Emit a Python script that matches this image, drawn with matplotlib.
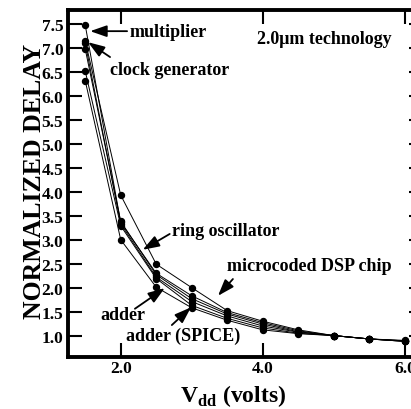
"""
Normalized delay vs. supply voltage for several circuits (2.0um technology).
"""

import matplotlib
matplotlib.use("Agg")
import matplotlib.pyplot as plt


VDD = [1.5, 2.0, 2.5, 3.0, 3.5, 4.0, 4.5, 5.0, 5.5, 6.0]

CLOCK_GENERATOR = [7.15, 3.93, 2.49, 2.00, 1.52, 1.30, 1.12, 1.00, 0.93, 0.90]
MULTIPLIER = [7.48, 3.36, 2.30, 1.83, 1.48, 1.27, 1.10, 1.00, 0.93, 0.89]
RING_OSCILLATOR = [6.98, 3.38, 2.27, 1.77, 1.45, 1.24, 1.08, 1.00, 0.93, 0.89]
MICROCODED_DSP = [7.10, 3.33, 2.22, 1.71, 1.41, 1.20, 1.07, 1.00, 0.93, 0.88]
ADDER_SPICE = [6.52, 3.29, 2.19, 1.63, 1.36, 1.16, 1.05, 1.00, 0.93, 0.88]
ADDER = [6.32, 3.00, 2.01, 1.58, 1.32, 1.12, 1.04, 1.00, 0.93, 0.88]

X_TICKS = [2.0, 4.0, 6.0]
Y_TICKS = [1.0, 1.5, 2.0, 2.5, 3.0, 3.5, 4.0, 4.5, 5.0, 5.5, 6.0, 6.5, 7.0, 7.5]

# label text, text anchor (left, centre), arrow tail, arrow tip -- data coords
ANNOTATIONS = [
    ("multiplier", (2.13, 7.35), (2.09, 7.35), (1.57, 7.35)),
    ("clock generator", (1.85, 6.56), (1.85, 6.81), (1.54, 7.12)),
    ("ring oscillator", (2.72, 3.19), (2.69, 3.12), (2.31, 2.79)),
    ("microcoded DSP chip", (3.49, 2.46), (3.58, 2.18), (3.37, 1.83)),
    ("adder", (1.71, 1.45), (2.20, 1.56), (2.62, 1.99)),
    ("adder (SPICE)", (2.08, 1.01), (2.72, 1.22), (2.99, 1.59)),
]

FONT = "Liberation Serif"


def main():
    plt.rcParams["font.family"] = FONT
    plt.rcParams["font.weight"] = "bold"
    plt.rcParams["mathtext.fontset"] = "custom"
    plt.rcParams["mathtext.rm"] = FONT + ":bold"
    plt.rcParams["mathtext.bf"] = FONT + ":bold"

    fig = plt.figure(figsize=(4.11, 4.10), dpi=100)
    # right spine sits just outside the picture in the original
    ax = fig.add_axes([0.1655, 0.127, 0.8625, 0.846])

    for series in [CLOCK_GENERATOR, MULTIPLIER, RING_OSCILLATOR,
                   MICROCODED_DSP, ADDER_SPICE, ADDER]:
        ax.plot(VDD, series, color="black", linewidth=0.7,
                marker="o", markersize=4.3, clip_on=False)

    ax.set_xlim(1.258, 6.25)
    ax.set_ylim(0.555, 7.79)
    ax.set_xticks(X_TICKS)
    ax.set_xticklabels([f"{v:.1f}" for v in X_TICKS])
    ax.set_yticks(Y_TICKS)
    ax.set_yticklabels([f"{v:.1f}" for v in Y_TICKS])
    ax.tick_params(direction="in", length=10, width=1.5,
                   top=True, right=True, labelsize=12.5)
    ax.tick_params(axis="x", pad=2)
    ax.tick_params(axis="y", pad=3.5)
    for lbl in ax.get_xticklabels() + ax.get_yticklabels():
        lbl.set_fontweight("bold")
    for side in ["left", "top", "bottom", "right"]:
        ax.spines[side].set_linewidth(2.8)

    for text, pos, tail, tip in ANNOTATIONS:
        ax.text(pos[0], pos[1], text, ha="left", va="center",
                fontsize=13, fontweight="bold")
        ax.annotate("", xy=tip, xytext=tail,
                    arrowprops=dict(arrowstyle="-|>,head_length=1.0,head_width=0.35",
                                    color="black", linewidth=1.3,
                                    mutation_scale=10, shrinkA=0, shrinkB=0))

    ax.text(3.92, 7.19, "2.0\u03bcm technology", ha="left", va="center",
            fontsize=13, fontweight="bold")

    fig.text(0.083, 0.558, "NORMALIZED DELAY", rotation=90,
             ha="center", va="center", fontsize=18.5, fontweight="bold")
    fig.text(0.438, 0.02, r"V$_{\mathbf{dd}}$ (volts)", ha="left",
             va="baseline", fontsize=17, fontweight="bold")

    fig.savefig("out.png", dpi=100)
    plt.close(fig)


if __name__ == "__main__":
    main()
